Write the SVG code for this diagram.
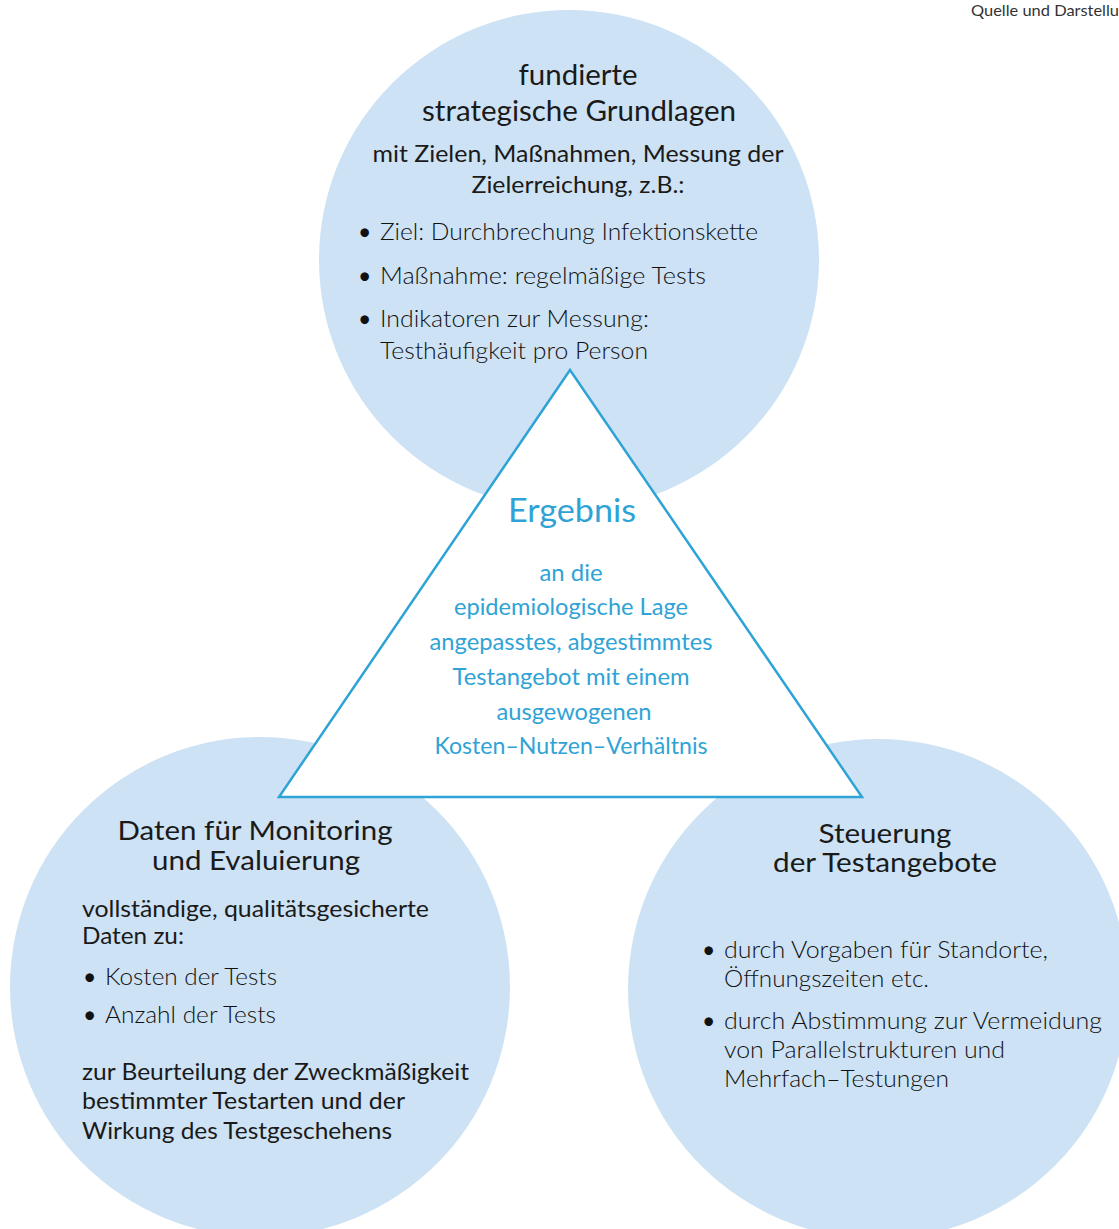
<svg xmlns="http://www.w3.org/2000/svg" width="1119" height="1229" viewBox="0 0 1119 1229">
<style>
text{font-family:Lato,"Liberation Sans",sans-serif;fill:#1a1a1a}
.c{fill:#cde2f4}
.t{font-size:28px;text-anchor:middle}
.t2{font-size:26.5px;text-anchor:middle}
.s{font-size:23px}
.m{text-anchor:middle}
.b{font-size:23px;font-weight:300;fill:#111}
.d{font-size:23px;font-weight:400;fill:#111}
.blue{fill:#2fa3d6;text-anchor:middle;font-size:23px}
</style>
<rect width="1119" height="1229" fill="#fff"/>
<text x="971" y="16" textLength="148" lengthAdjust="spacingAndGlyphs" style="font-size:15px;fill:#333">Quelle und Darstellu</text>
<g id="node-grundlagen">
<circle class="c" cx="569" cy="260" r="250"/>
<text class="t" x="578" y="85" textLength="119" lengthAdjust="spacingAndGlyphs">fundierte</text>
<text class="t" x="579" y="121" textLength="314" lengthAdjust="spacingAndGlyphs">strategische Grundlagen</text>
<text class="s m" x="578" y="162" textLength="411" lengthAdjust="spacingAndGlyphs">mit Zielen, Maßnahmen, Messung der</text>
<text class="s m" x="578" y="193" textLength="213" lengthAdjust="spacingAndGlyphs">Zielerreichung, z.B.:</text>
<text class="d" x="358" y="240">•</text><text class="b" x="380" y="240" textLength="378" lengthAdjust="spacingAndGlyphs">Ziel: Durchbrechung Infektionskette</text>
<text class="d" x="358" y="284">•</text><text class="b" x="380" y="284" textLength="326" lengthAdjust="spacingAndGlyphs">Maßnahme: regelmäßige Tests</text>
<text class="d" x="358" y="327">•</text><text class="b" x="380" y="327" textLength="269" lengthAdjust="spacingAndGlyphs">Indikatoren zur Messung:</text>
<text class="b" x="380" y="359" textLength="268" lengthAdjust="spacingAndGlyphs">Testhäufigkeit pro Person</text>
</g>
<g id="node-monitoring">
<circle class="c" cx="260" cy="987" r="250"/>
<text class="t2" x="255" y="840" textLength="275" lengthAdjust="spacingAndGlyphs">Daten für Monitoring</text>
<text class="t2" x="256" y="870" textLength="208" lengthAdjust="spacingAndGlyphs">und Evaluierung</text>
<text class="s" x="82" y="917" textLength="347" lengthAdjust="spacingAndGlyphs">vollständige, qualitätsgesicherte</text>
<text class="s" x="82" y="944" textLength="102" lengthAdjust="spacingAndGlyphs">Daten zu:</text>
<text class="d" x="83" y="985">•</text><text class="b" x="105" y="985" textLength="172" lengthAdjust="spacingAndGlyphs">Kosten der Tests</text>
<text class="d" x="83" y="1023">•</text><text class="b" x="105" y="1023" textLength="171" lengthAdjust="spacingAndGlyphs">Anzahl der Tests</text>
<text class="s" x="82" y="1080" textLength="387" lengthAdjust="spacingAndGlyphs">zur Beurteilung der Zweckmäßigkeit</text>
<text class="s" x="82" y="1109" textLength="323" lengthAdjust="spacingAndGlyphs">bestimmter Testarten und der</text>
<text class="s" x="82" y="1139" textLength="310" lengthAdjust="spacingAndGlyphs">Wirkung des Testgeschehens</text>
</g>
<g id="node-steuerung">
<circle class="c" cx="878" cy="989" r="250"/>
<text class="t2" x="885" y="843" textLength="133" lengthAdjust="spacingAndGlyphs">Steuerung</text>
<text class="t2" x="885" y="872" textLength="224" lengthAdjust="spacingAndGlyphs">der Testangebote</text>
<text class="d" x="702" y="958">•</text><text class="b" x="724" y="958" textLength="324" lengthAdjust="spacingAndGlyphs">durch Vorgaben für Standorte,</text>
<text class="b" x="724" y="987" textLength="205" lengthAdjust="spacingAndGlyphs">Öffnungszeiten etc.</text>
<text class="d" x="702" y="1029">•</text><text class="b" x="724" y="1029" textLength="378" lengthAdjust="spacingAndGlyphs">durch Abstimmung zur Vermeidung</text>
<text class="b" x="724" y="1058" textLength="281" lengthAdjust="spacingAndGlyphs">von Parallelstrukturen und</text>
<text class="b" x="724" y="1087" textLength="225" lengthAdjust="spacingAndGlyphs">Mehrfach–Testungen</text>
</g>
<g id="node-ergebnis">
<polygon points="570,370 279,797 862,797" fill="#fff" stroke="#2fa3d6" stroke-width="2.5" stroke-linejoin="miter"/>
<text class="blue" x="572" y="522" style="font-size:33px" textLength="128" lengthAdjust="spacingAndGlyphs">Ergebnis</text>
<text class="blue" x="571" y="581" textLength="63" lengthAdjust="spacingAndGlyphs">an die</text>
<text class="blue" x="571" y="615" textLength="234" lengthAdjust="spacingAndGlyphs">epidemiologische Lage</text>
<text class="blue" x="571" y="650" textLength="283" lengthAdjust="spacingAndGlyphs">angepasstes, abgestimmtes</text>
<text class="blue" x="571" y="685" textLength="237" lengthAdjust="spacingAndGlyphs">Testangebot mit einem</text>
<text class="blue" x="574" y="720" textLength="155" lengthAdjust="spacingAndGlyphs">ausgewogenen</text>
<text class="blue" x="571" y="754" textLength="273" lengthAdjust="spacingAndGlyphs">Kosten–Nutzen–Verhältnis</text>
</g>
<g id="connectors"></g>
</svg>
